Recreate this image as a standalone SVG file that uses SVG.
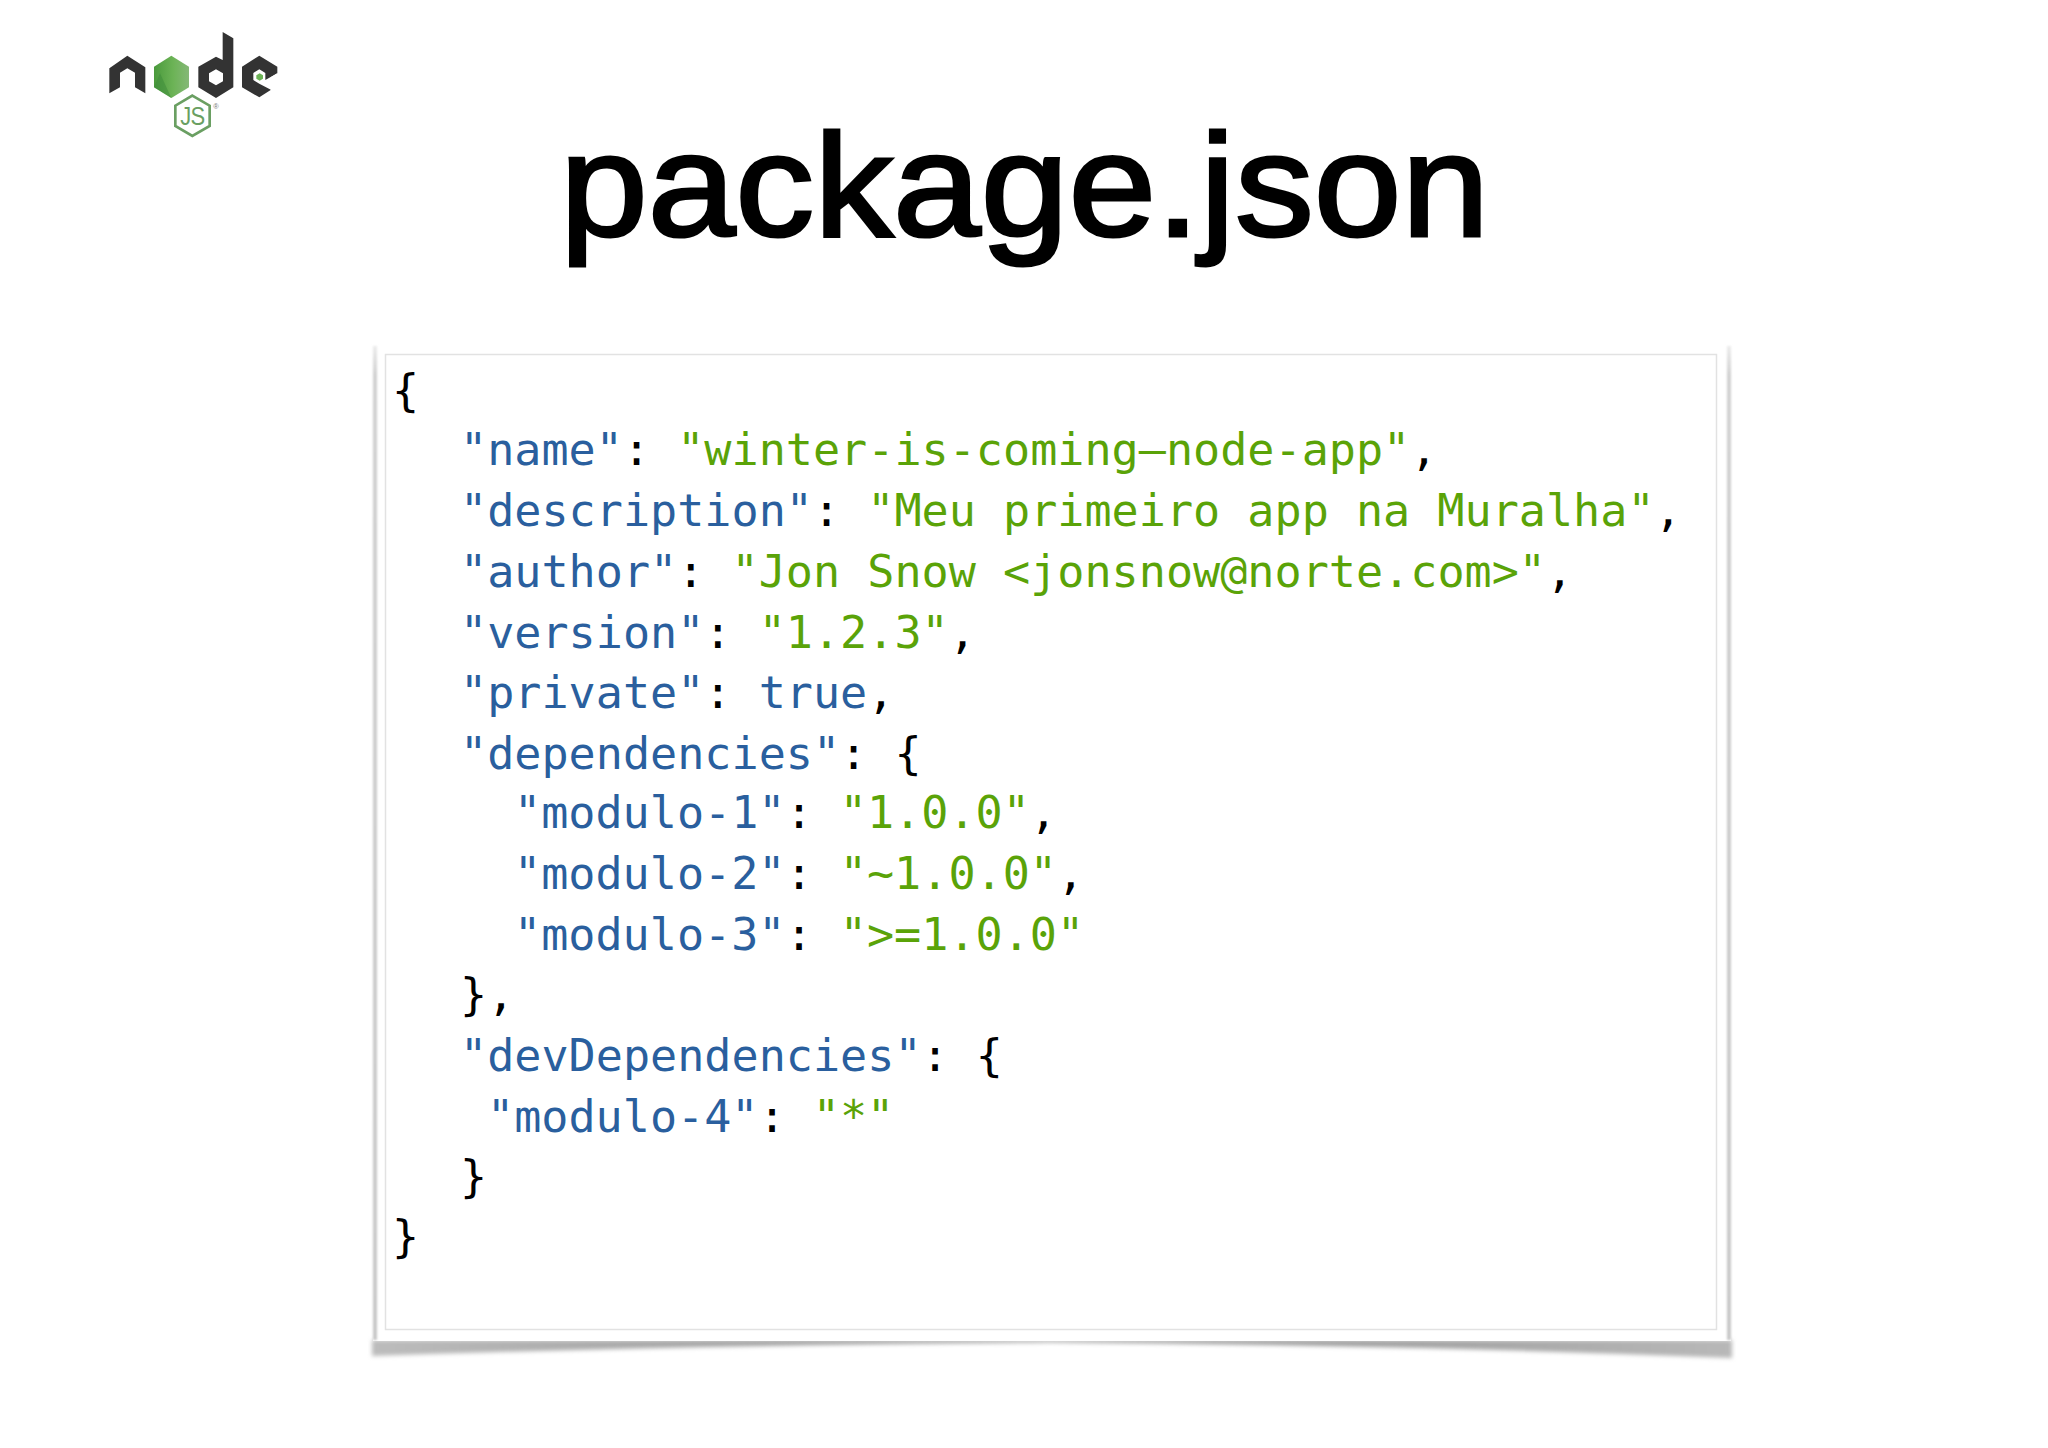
<svg xmlns="http://www.w3.org/2000/svg" width="2048" height="1448" viewBox="0 0 2048 1448">
<style>
.c{font-family:"DejaVu Sans Mono","Liberation Mono",monospace;font-size:45.1px;fill:#000;white-space:pre}
.k{fill:#2a5f9e}.s{fill:#5aa308}
.d{fill:#333}
</style>
<defs>
<linearGradient id="hex" x1="0" y1="0" x2="1" y2="0"><stop offset="0" stop-color="#4a9a3c"/><stop offset=".55" stop-color="#6cb356"/><stop offset="1" stop-color="#85b877"/></linearGradient>
<linearGradient id="sh" x1="0" y1="0" x2="1" y2="0"><stop offset="0" stop-color="#bcbcbc"/><stop offset=".5" stop-color="#8a8a8a"/><stop offset="1" stop-color="#b8b8b8"/></linearGradient>
<linearGradient id="side" x1="0" y1="0" x2="0" y2="1"><stop offset="0" stop-color="#ececec"/><stop offset=".03" stop-color="#d0d0d0"/><stop offset="1" stop-color="#c8c8c8"/></linearGradient>
<filter id="bl" x="-5%" y="-100%" width="110%" height="300%"><feGaussianBlur stdDeviation="2"/></filter>
<filter id="bs" x="-300%" y="-2%" width="700%" height="104%"><feGaussianBlur stdDeviation="0.9"/></filter>
</defs>
<rect width="2048" height="1448" fill="#fff"/>
<g id="logo" transform="translate(80 10) scale(.33333)">
<path class="d" d="M88 175L142 137L196 172V250L165 232V188L142 175L120 188V232L88 250Z"/>
<path fill="url(#hex)" d="M274 137L327 170V232L274 264L222 232V170Z"/>
<path fill="#3b8a3a" d="M240 190L274 264L222 232Z" opacity=".5"/>
<path class="d" fill-rule="evenodd" d="M428 66L460 85V232L408 264L355 232V170L408 140L428 150ZM408 178L387 190V214L408 226L429 214V190Z"/>
<path class="d" d="M538 137L592 170V190L572 202L572 240L538 262L486 232V170Z"/>
<path fill="#fff" d="M538 178L556 189V210L592 190V222L574 240L538 221L520 210V189Z"/>
<path fill="#6cb356" d="M539 190L549 196V206L539 212L529 206V196Z"/>
<path fill="none" stroke="#6a9f62" stroke-width="8" d="M337 257L389 287V348L337 378L286 348V287Z"/>
<text transform="translate(337 345) scale(1 1.2)" text-anchor="middle" font-family="Liberation Sans,sans-serif" font-size="66" letter-spacing="-2" fill="#6a9f62">JS</text>
<text x="408" y="296" text-anchor="middle" font-family="Liberation Sans,sans-serif" font-size="22" fill="#777">®</text>
</g>
<text id="title" transform="translate(560 236) scale(1.08 1)" font-family="Liberation Sans,Arial,sans-serif" font-size="146" fill="#000" stroke="#000" stroke-width="3">package.json</text>
<g id="card">
<path fill="url(#sh)" filter="url(#bl)" d="M372 1340H1732V1358Q1400 1345 1050 1342Q700 1345 372 1356Z"/>
<rect x="373" y="348" width="1358" height="993" fill="#fff"/>
<rect x="373" y="346" width="4" height="994" fill="url(#side)" filter="url(#bs)"/>
<rect x="1727" y="346" width="4" height="994" fill="url(#side)" filter="url(#bs)"/>
<rect x="385.500" y="354.500" width="1331" height="975" fill="#fff" stroke="#e2e2e2" stroke-width="1.500"/>
</g>
<g id="code">
<text class="c" x="392" y="406">{</text>
<text class="c" x="460" y="465"><tspan class="k">"name"</tspan>: <tspan class="s">"winter-is-coming–node-app"</tspan>,</text>
<text class="c" x="460" y="526"><tspan class="k">"description"</tspan>: <tspan class="s">"Meu primeiro app na Muralha"</tspan>,</text>
<text class="c" x="460" y="587"><tspan class="k">"author"</tspan>: <tspan class="s">"Jon Snow &lt;jonsnow@norte.com&gt;"</tspan>,</text>
<text class="c" x="460" y="647.500"><tspan class="k">"version"</tspan>: <tspan class="s">"1.2.3"</tspan>,</text>
<text class="c" x="460" y="708"><tspan class="k">"private"</tspan>: <tspan class="k">true</tspan>,</text>
<text class="c" x="460" y="769"><tspan class="k">"dependencies"</tspan>: {</text>
<text class="c" x="514" y="827.500"><tspan class="k">"modulo-1"</tspan>: <tspan class="s">"1.0.0"</tspan>,</text>
<text class="c" x="514" y="888.500"><tspan class="k">"modulo-2"</tspan>: <tspan class="s">"~1.0.0"</tspan>,</text>
<text class="c" x="514" y="949.500"><tspan class="k">"modulo-3"</tspan>: <tspan class="s">"&gt;=1.0.0"</tspan></text>
<text class="c" x="460" y="1010">},</text>
<text class="c" x="460" y="1071"><tspan class="k">"devDependencies"</tspan>: {</text>
<text class="c" x="487" y="1131.500"><tspan class="k">"modulo-4"</tspan>: <tspan class="s">"*"</tspan></text>
<text class="c" x="460" y="1191.500">}</text>
<text class="c" x="392" y="1252">}</text>
</g>
</svg>
